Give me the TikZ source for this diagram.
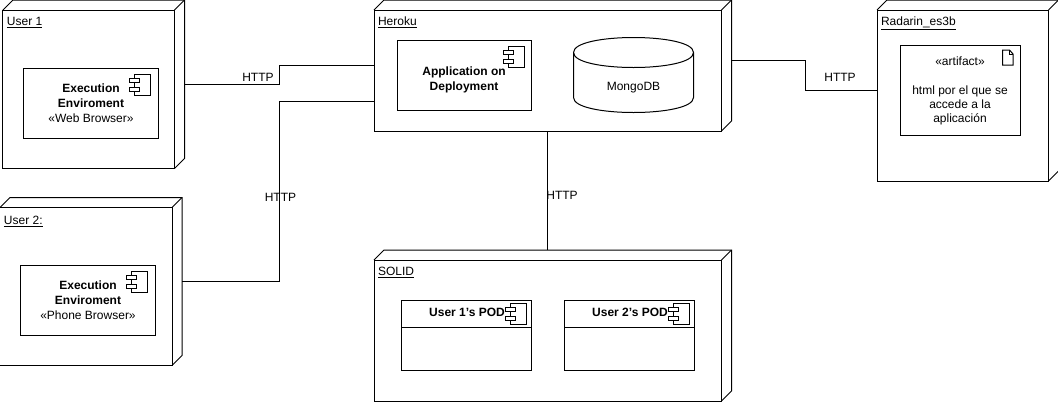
\documentclass[tikz,border=0pt]{standalone}
\usepackage{fontspec}
\setmainfont{Liberation Sans}
\usetikzlibrary{calc}
\tikzset{
	nodebox/.style 2 args={rectangle,inner sep=0pt,anchor=north west,minimum width=#1*0.75pt,minimum height=#2*0.75pt,
		append after command={\pgfextra{\let\boxname\tikzlastnode
			\draw ($(\boxname.south west)$) rectangle ($(\boxname.north east)+(-10,10)$);
			\draw ($(\boxname.north west)+(0,10)$) -- ($(\boxname.north west)+(10,0)$) -- (\boxname.north east) -- ($(\boxname.south east)+(0,-10)$) -- ($(\boxname.south east)+(-10,0)$);
			\draw ($(\boxname.north east)+(-10,10)$) -- (\boxname.north east);
		}}},
	innerbox/.style 2 args={draw,rectangle,inner sep=0pt,anchor=north west,align=center,minimum width=#1*0.75pt,minimum height=#2*0.75pt},
	nodetitle/.style={anchor=base west,inner sep=0pt},
	txt/.style={inner sep=0pt,align=center},
	pics/compicon/.style={code={
		\draw (-16,0) rectangle (0,21);
		\draw [fill=white] (-21,4) rectangle (-11,8);
		\draw [fill=white] (-21,13) rectangle (-11,17);
	}},
	pics/docicon/.style={code={
		\draw (0,0) -- (7,0) -- (10.5,4) -- (10.5,15) -- (0,15) -- cycle;
		\draw (7,0) -- (7,4) -- (10.5,4);
	}}
}

\begin{document}
\begin{tikzpicture}[x=0.75pt,y=-0.75pt,line width=0.75pt,font=\fontsize{9}{11.25}\selectfont]
	\useasboundingbox (0.5,0.5) rectangle (1058.5,401.5);

	\node [nodebox={180.5}{167.5}] (user1) at (3.5,0.5) {};
	\node [nodetitle] (user1title) at (7,26) {\underline{User 1}};
	\node [innerbox={135}{70}] (exec1) at (23.5,68) {\textbf{Execution}\\\textbf{Enviroment}\\«Web Browser»};
	\pic at (151,74.5) {compicon};

	\node [nodebox={181}{167}] (user2) at (0.5,198) {};
	\node [nodetitle] (user2title) at (4,225) {\underline{User 2:}};
	\node [innerbox={135}{70}] (exec2) at (20.5,265.5) {\textbf{Execution}\\\textbf{Enviroment}\\«Phone Browser»};
	\pic at (148,272) {compicon};

	\node [nodebox={356.5}{130}] (heroku) at (374.5,0.5) {};
	\node [nodetitle] (herokutitle) at (378,26) {\underline{Heroku}};
	\node [innerbox={134}{70}] (app) at (397.5,40.5) {};
	\node [txt] (applabel) at (464.5,80.5) {\textbf{Application on}\\\textbf{Deployment}};
	\pic at (524.5,47) {compicon};
	\draw (574,53) .. controls (574,33) and (694,33) .. (694,53) -- (694,98) .. controls (694,118) and (574,118) .. (574,98) -- cycle;
	\draw (574,53) .. controls (574,73) and (694,73) .. (694,53);
	\node [txt] (mongo) at (634,88) {MongoDB};

	\node [nodebox={180.5}{180}] (radarin) at (877.5,0.5) {};
	\node [nodetitle] (radarintitle) at (881,26) {\underline{Radarin\_es3b}};
	\node [innerbox={120}{90}] (artifact) at (900.5,45.5) {};
	\node [txt] (artifacttag) at (960.5,62) {«artifact»};
	\node [txt,font=\fontsize{9}{10.5}\selectfont] (artifacttext) at (960.5,105.5) {html por el que se\\accede a la\\aplicación};
	\pic at (1003,50.5) {docicon};

	\node [nodebox={356.5}{150}] (solid) at (374.5,250.5) {};
	\node [nodetitle] (solidtitle) at (378,276) {\underline{SOLID}};
	\node [innerbox={130}{70}] (pod1) at (401.5,300.5) {};
	\node [txt] (pod1label) at (467.5,313) {\textbf{User 1's POD}};
	\pic at (527,303.5) {compicon};
	\node [innerbox={130}{70}] (pod2) at (564.5,300.5) {};
	\node [txt] (pod2label) at (630.5,313) {\textbf{User 2's POD}};
	\pic at (690,303.5) {compicon};
	\draw ($(pod1.west)+(0,-8.5)$) -- ++(131,0);
	\draw ($(pod2.west)+(0,-8.5)$) -- ++(131,0);

	\draw (user1.east) -- ++(95,0) |- (heroku.west);
	\draw (user2.east) -- ++(97,0) |- ($(heroku.west)+(0,36)$);
	\draw ($(heroku.east)+(0,-5)$) -- ++(74,0) |- (radarin.west);
	\draw ($(heroku.south)+(-5,0)$) -- ($(solid.north)+(-5,0)$);

	\node [txt] (http1) at (258.5,77.5) {HTTP};
	\node [txt] (http2) at (281,197.5) {HTTP};
	\node [txt] (http3) at (840.5,77.5) {HTTP};
	\node [txt] (http4) at (562.5,195.5) {HTTP};
\end{tikzpicture}
\end{document}
